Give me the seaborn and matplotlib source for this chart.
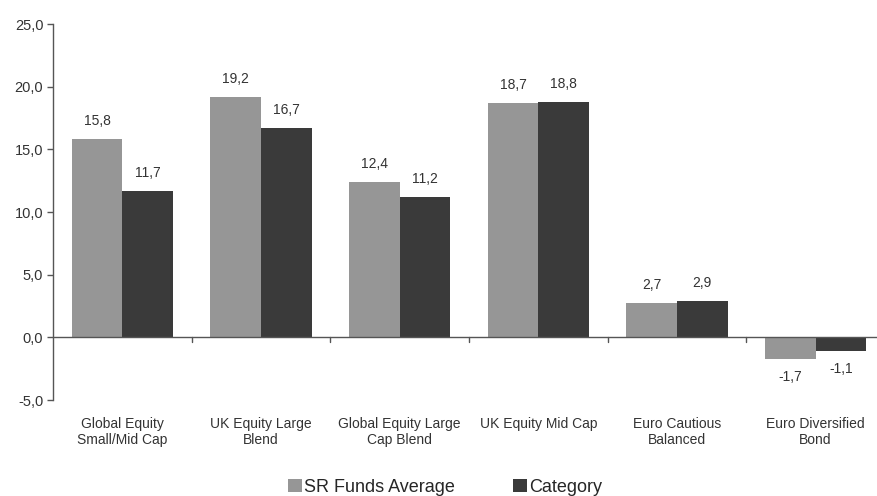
import matplotlib
matplotlib.use("Agg")
import matplotlib.pyplot as plt
from matplotlib.ticker import FuncFormatter, MultipleLocator
import pandas as pd
import seaborn as sns

categories = [
    "Global Equity\nSmall/Mid Cap",
    "UK Equity Large\nBlend",
    "Global Equity Large\nCap Blend",
    "UK Equity Mid Cap",
    "Euro Cautious\nBalanced",
    "Euro Diversified\nBond",
]
sr_funds_average = [15.8, 19.2, 12.4, 18.7, 2.7, -1.7]
category_values = [11.7, 16.7, 11.2, 18.8, 2.9, -1.1]
series_names = ["SR Funds Average", "Category"]

df = pd.DataFrame({
    "group": categories * 2,
    "series": [series_names[0]] * len(categories) + [series_names[1]] * len(categories),
    "value": sr_funds_average + category_values,
})

sns.set_style("white")
plt.rcParams["font.family"] = ["Liberation Sans", "DejaVu Sans"]

fig = plt.figure(figsize=(8.78, 4.96), dpi=100)
ax = fig.add_axes([53 / 878, 96 / 496, 1 - 53 / 878, (400 - 24) / 496])

palette = {series_names[0]: "#969696", series_names[1]: "#3a3a3a"}
sns.barplot(data=df, x="group", y="value", hue="series", palette=palette,
            width=0.73, gap=0, saturation=1, edgecolor="none", ax=ax,
            legend=True)

ax.set_ylim(-5, 25)
ax.set_xlim(-0.5, 5.45)
ax.yaxis.set_major_locator(MultipleLocator(5))
fmt = lambda v, _: f"{v:.1f}".replace(".", ",")
ax.yaxis.set_major_formatter(FuncFormatter(fmt))

for s in ["top", "right", "bottom"]:
    ax.spines[s].set_visible(False)
ax.spines["left"].set_color("#555555")
ax.spines["left"].set_linewidth(1.0)
ax.tick_params(axis="y", length=4, width=1, color="#555555", labelsize=10.5,
               labelcolor="#333333", direction="out", left=True, pad=3)
ax.tick_params(axis="x", length=0, labelsize=10, labelcolor="#333333", pad=12)
for lbl in ax.get_xticklabels():
    lbl.set_linespacing(1.25)
ax.set_xlabel("")
ax.set_ylabel("")

# zero baseline and category separators
ax.axhline(0, color="#555555", linewidth=1.0, zorder=3)
for sep in [0.5, 1.5, 2.5, 3.5, 4.5]:
    ax.plot([sep, sep], [0, -0.35], color="#555555", linewidth=1.0,
            clip_on=False, zorder=3)

# value labels on bars
for container in ax.containers:
    labels = [fmt(b.get_height(), None) for b in container]
    ax.bar_label(container, labels=labels, padding=8, fontsize=10,
                 color="#333333")

handles, labels = ax.get_legend_handles_labels()
ax.legend(handles, labels, loc="lower center", bbox_to_anchor=(0.507, -0.018),
          bbox_transform=fig.transFigure, ncol=2, frameon=False,
          fontsize=13, handlelength=0.75, handleheight=0.75,
          handletextpad=0.15, columnspacing=3.2, borderaxespad=0.1)

fig.savefig("out.png", dpi=100)
